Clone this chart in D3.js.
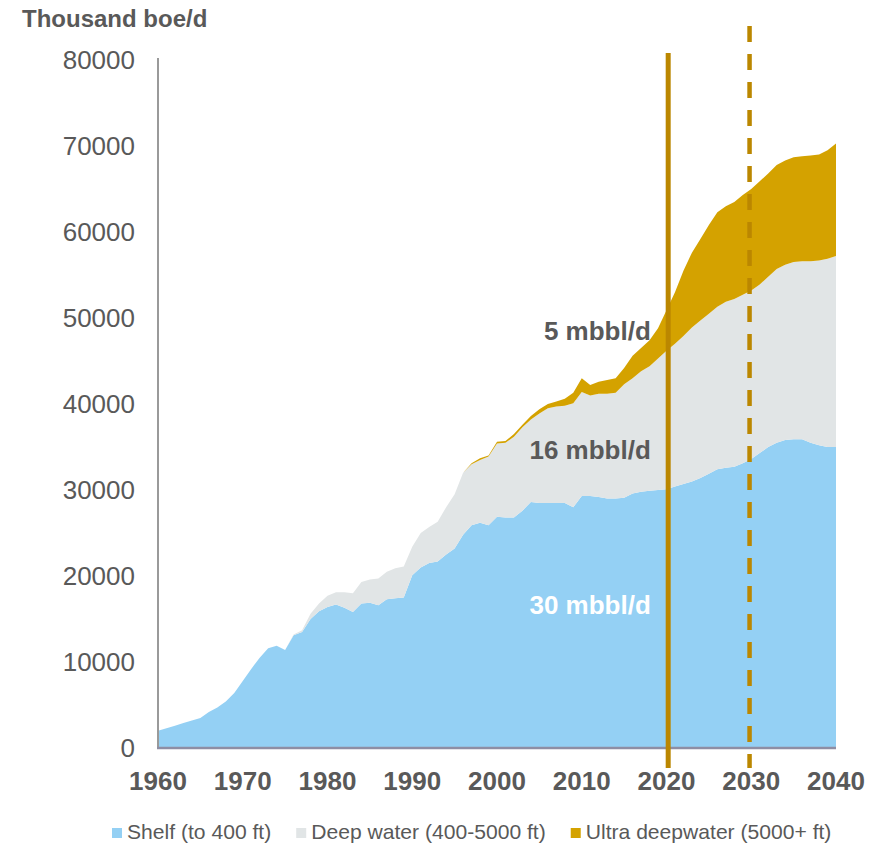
<!DOCTYPE html>
<html>
<head>
<meta charset="utf-8">
<script src="https://cdn.jsdelivr.net/npm/d3@7/dist/d3.min.js"></script>
<style>
  html, body { margin: 0; padding: 0; background: #ffffff; }
  svg { display: block; font-family: "Liberation Sans", Arial, Helvetica, sans-serif; }
</style>
</head>
<body>
<svg id="chart" width="884" height="845"></svg>
<script>
// Offshore liquids production by water depth, thousand boe/d, 1960-2040
const years = d3.range(1960, 2041);

const shelf = [
  2000, 2300, 2600, 2900, 3200, 3500, 4200, 4700, 5400, 6400,          // 1960-1969
  7800, 9200, 10500, 11600, 11900, 11400, 13100, 13500, 15000, 15900,  // 1970-1979
  16400, 16700, 16300, 15800, 16800, 16900, 16600, 17300, 17400, 17500,// 1980-1989
  20100, 21000, 21500, 21700, 22500, 23200, 24800, 25900, 26200, 25900,// 1990-1999
  26900, 26800, 26800, 27600, 28600, 28500, 28500, 28500, 28500, 28000,// 2000-2009
  29300, 29300, 29200, 29000, 29000, 29100, 29600, 29800, 29900, 30000,// 2010-2019
  30100, 30400, 30700, 31000, 31400, 31900, 32400, 32600, 32700, 33100,// 2020-2029
  33600, 34300, 35000, 35500, 35800, 35900, 35900, 35500, 35200, 35000,// 2030-2039
  35000                                                                 // 2040
];

const deepWater = [
  0, 0, 0, 0, 0, 0, 0, 0, 0, 0,
  0, 0, 0, 0, 0, 0, 100, 200, 600, 900,
  1300, 1400, 1800, 2200, 2500, 2700, 3100, 3200, 3500, 3600,
  3300, 4000, 4200, 4600, 5500, 6300, 7200, 7100, 7300, 8000,
  8500, 8700, 9400, 9700, 9600, 10400, 11000, 11200, 11300, 12100,
  12100, 11700, 12000, 12200, 12300, 13200, 13400, 14000, 14500, 15300,
  16100, 16600, 17200, 17900, 18300, 18600, 18900, 19300, 19500, 19600,
  19600, 19600, 19800, 20200, 20400, 20600, 20700, 21100, 21500, 21900,
  22200
];

const ultraDeep = [
  0, 0, 0, 0, 0, 0, 0, 0, 0, 0,
  0, 0, 0, 0, 0, 0, 0, 0, 0, 0,
  0, 0, 0, 0, 0, 0, 0, 0, 0, 0,
  0, 0, 0, 0, 0, 0, 0, 100, 200, 100,
  200, 200, 300, 300, 400, 500, 500, 600, 800, 1200,
  1600, 1200, 1400, 1600, 1700, 1900, 2600, 2700, 3000, 3500,
  4700, 6000, 7600, 8700, 9500, 10300, 11000, 11100, 11300, 11600,
  11800, 12000, 12000, 12100, 12100, 12200, 12200, 12300, 12300, 12600,
  13100
];

const seriesNames = ["Shelf (to 400 ft)", "Deep water (400-5000 ft)", "Ultra deepwater (5000+ ft)"];
const seriesColors = ["#94d0f4", "#e1e5e6", "#d4a200"];

const yTicks = [0, 10000, 20000, 30000, 40000, 50000, 60000, 70000, 80000];
const xTicks = [1960, 1970, 1980, 1990, 2000, 2010, 2020, 2030, 2040];

// Reference years: solid = latest actuals, dashed = outlook horizon
const markerYears = [2020.2, 2029.8];

// Cumulative volume annotations (layer label, value at anchor point)
const volumeLabels = [
  { text: "5 mbbl/d",  value: 47500, color: "#595959" },
  { text: "16 mbbl/d", value: 33600, color: "#595959" },
  { text: "30 mbbl/d", value: 15600, color: "#ffffff" }
];
const labelAnchorYear = 2018.5;

const table = years.map((yr, i) => ({
  year: yr, shelf: shelf[i], deep: deepWater[i], ultra: ultraDeep[i]
}));

const svg = d3.select("#chart");
const x = d3.scaleLinear().domain([1960, 2040]).range([158, 836]);
const y = d3.scaleLinear().domain([0, 80000]).range([748, 60]);

const stack = d3.stack().keys(["shelf", "deep", "ultra"]);
const layers = stack(table);

const area = d3.area()
  .x(d => x(d.data.year))
  .y0(d => y(d[0]))
  .y1(d => y(d[1]));

svg.append("g").selectAll("path")
  .data(layers)
  .join("path")
  .attr("d", area)
  .attr("fill", (d, i) => seriesColors[i]);

// Axis lines
svg.append("line")
  .attr("x1", x(1960)).attr("x2", x(1960))
  .attr("y1", y(80000) - 2).attr("y2", y(0))
  .attr("stroke", "#9a9a9a").attr("stroke-width", 2);

svg.append("line")
  .attr("x1", x(1960) - 1).attr("x2", x(2040))
  .attr("y1", y(0)).attr("y2", y(0))
  .attr("stroke", "#8e8ea4").attr("stroke-width", 2.5);

// Y tick labels
svg.append("g").selectAll("text")
  .data(yTicks)
  .join("text")
  .attr("x", 135)
  .attr("y", d => y(d))
  .attr("dy", "0.36em")
  .attr("text-anchor", "end")
  .attr("font-size", 26)
  .attr("fill", "#595959")
  .text(d => d);

// X tick labels
svg.append("g").selectAll("text")
  .data(xTicks)
  .join("text")
  .attr("x", d => x(d))
  .attr("y", 790)
  .attr("text-anchor", "middle")
  .attr("font-size", 26)
  .attr("font-weight", "bold")
  .attr("fill", "#595959")
  .text(d => d);

// Unit title
svg.append("text")
  .attr("x", 22).attr("y", 27)
  .attr("font-size", 24)
  .attr("font-weight", "bold")
  .attr("fill", "#595959")
  .text("Thousand boe/d");

// Reference lines
svg.append("line")
  .attr("x1", x(markerYears[0])).attr("x2", x(markerYears[0]))
  .attr("y1", 53).attr("y2", 768)
  .attr("stroke", "#bb8700").attr("stroke-width", 5);

svg.append("line")
  .attr("x1", x(markerYears[1])).attr("x2", x(markerYears[1]))
  .attr("y1", 26).attr("y2", 768)
  .attr("stroke", "#bb8700").attr("stroke-width", 4.5)
  .attr("stroke-dasharray", "16,12");

// Volume annotations
svg.append("g").selectAll("text")
  .data(volumeLabels)
  .join("text")
  .attr("x", x(labelAnchorYear) - 3)
  .attr("y", d => y(d.value))
  .attr("text-anchor", "end")
  .attr("font-size", 26)
  .attr("font-weight", "bold")
  .attr("fill", d => d.color)
  .text(d => d.text);

// Legend
const legend = svg.append("g");
let lx = 112;
seriesNames.forEach((name, i) => {
  legend.append("rect")
    .attr("x", lx).attr("y", 828)
    .attr("width", 10).attr("height", 10)
    .attr("fill", seriesColors[i]);
  const t = legend.append("text")
    .attr("x", lx + 15).attr("y", 839)
    .attr("font-size", 21.1)
    .attr("fill", "#595959")
    .text(name);
  lx += 15 + t.node().getComputedTextLength() + 25;
});
</script>
</body>
</html>
